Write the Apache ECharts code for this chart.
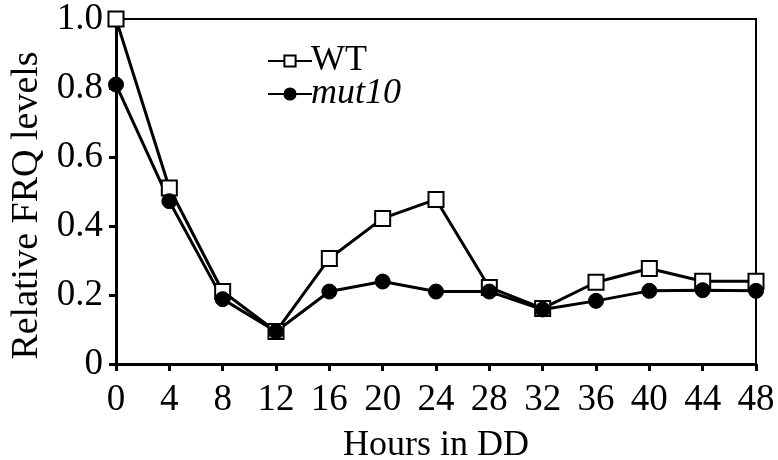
<!DOCTYPE html>
<html>
<head>
<meta charset="utf-8">
<script src="https://cdn.jsdelivr.net/npm/echarts@6/dist/echarts.min.js"></script>
<style>
  html, body { margin: 0; padding: 0; background: #fff; }
  #chart { width: 778px; height: 460px; }
</style>
</head>
<body>
<div id="chart"></div>
<script>
// hours in constant darkness
var hours = [0, 4, 8, 12, 16, 20, 24, 28, 32, 36, 40, 44, 48];
var wtLevels = [1.0, 0.51, 0.21, 0.094, 0.306, 0.422, 0.477, 0.222, 0.161, 0.237, 0.277, 0.24, 0.24];
var mutLevels = [0.81, 0.472, 0.188, 0.094, 0.21, 0.239, 0.21, 0.21, 0.158, 0.183, 0.212, 0.214, 0.212];

var font = 'Liberation Serif';

function pairs(ys) {
    var out = [];
    for (var i = 0; i < hours.length; i++) {
        out.push([hours[i], ys[i]]);
    }
    return out;
}

var myChart = echarts.init(document.getElementById('chart'));
myChart.setOption({
    animation: false,
    grid: {
        left: 116, right: 22, top: 19, bottom: 96,
        outerBoundsMode: 'none', containLabel: false,
        show: true, borderColor: '#000', borderWidth: 2
    },
    legend: {
        orient: 'vertical',
        left: 262, top: 38,
        itemWidth: 44, itemHeight: 14, itemGap: -3,
        data: ['WT', 'mut10'],
        textStyle: {
            fontFamily: font, fontSize: 36, color: '#000', padding: [0, 0, 0, -6],
            rich: { i: { fontFamily: font, fontSize: 36, fontStyle: 'italic', color: '#000' } }
        },
        formatter: function (name) {
            return name === 'mut10' ? '{i|mut10}' : name;
        }
    },
    xAxis: {
        type: 'value', min: 0, max: 48, interval: 4,
        name: 'Hours in DD', nameLocation: 'middle', nameGap: 64,
        nameTextStyle: { fontFamily: font, fontSize: 36, color: '#000' },
        axisLine: { onZero: false, lineStyle: { color: '#000', width: 3 } },
        axisTick: { length: 7, lineStyle: { color: '#000', width: 3 } },
        axisLabel: { fontFamily: font, fontSize: 37, color: '#000', margin: 18 },
        splitLine: { show: false }
    },
    yAxis: {
        type: 'value', min: 0, max: 1.0, interval: 0.2,
        name: 'Relative FRQ levels', nameLocation: 'middle', nameGap: 67,
        nameTextStyle: { fontFamily: font, fontSize: 38, color: '#000', padding: [0, 28, 0, 0] },
        axisLine: { show: true, onZero: false, lineStyle: { color: '#000', width: 3 } },
        axisTick: { show: true, length: 7, lineStyle: { color: '#000', width: 3 } },
        axisLabel: {
            fontFamily: font, fontSize: 37, color: '#000', margin: 13,
            formatter: function (v) { return v === 0 ? '0' : v.toFixed(1); }
        },
        splitLine: { show: false }
    },
    series: [
        {
            name: 'WT', type: 'line', data: pairs(wtLevels),
            symbol: 'rect', symbolSize: 15,
            lineStyle: { color: '#000', width: 3 },
            itemStyle: { color: '#fff', borderColor: '#000', borderWidth: 2 }
        },
        {
            name: 'mut10', type: 'line', data: pairs(mutLevels),
            symbol: 'circle', symbolSize: 15,
            lineStyle: { color: '#000', width: 3 },
            itemStyle: { color: '#000', borderColor: '#000', borderWidth: 1 }
        }
    ]
});
</script>
</body>
</html>
